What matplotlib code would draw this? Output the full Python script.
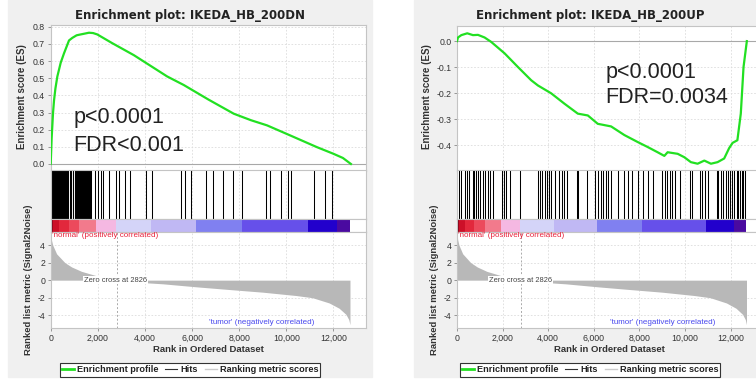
#!/usr/bin/env python3
"""
Two GSEA enrichment plots side by side (IKEDA_HB_200DN / IKEDA_HB_200UP).
Writes out.png (756x379).
"""

import matplotlib as mpl
import matplotlib.pyplot as plt
from matplotlib.lines import Line2D
from matplotlib.patches import Rectangle

W, H = 756, 379
DPI = 100

N_GENES = 12700
ZERO_CROSS = 2826
X_TICKS = [0, 2000, 4000, 6000, 8000, 10000, 12000]

# running enrichment score, gene set DN
ES_DN_RANK = [0, 40, 100, 141, 200, 282, 424, 565, 777, 918, 1100, 1271, 1450,
              1624, 1800, 1977, 2600, 3531, 4944, 5650, 6700, 7768, 8500, 9181,
              10170, 11300, 12006, 12400, 12740]
ES_DN = [0.0, 0.15, 0.30, 0.37, 0.44, 0.51, 0.59, 0.645, 0.72, 0.735, 0.75,
         0.755, 0.76, 0.765, 0.763, 0.755, 0.705, 0.634, 0.51, 0.46, 0.375,
         0.293, 0.255, 0.225, 0.166, 0.098, 0.059, 0.035, 0.0]

# running enrichment score, gene set UP
ES_UP_RANK = [0, 44, 190, 450, 700, 920, 1210, 1500, 2090, 2670, 3255, 3550,
              4130, 4715, 5300, 5740, 6175, 6760, 7340, 7930, 8365, 8800, 9095,
              9240, 9680, 9970, 10260, 10555, 10850, 11140, 11430, 11720, 11940,
              12090, 12300, 12450, 12570, 12715]
ES_UP = [0.0, 0.014, 0.023, 0.03, 0.023, 0.024, 0.014, -0.003, -0.047, -0.099,
         -0.15, -0.17, -0.20, -0.24, -0.278, -0.285, -0.317, -0.327, -0.36,
         -0.387, -0.406, -0.426, -0.44, -0.426, -0.432, -0.445, -0.464, -0.47,
         -0.458, -0.47, -0.464, -0.45, -0.41, -0.39, -0.38, -0.278, -0.099, 0.0]

# hit positions
HITS_DN = [0, 20, 45, 70, 95, 120, 150, 175, 205, 230, 260, 290, 315, 345, 370,
           400, 430, 455, 485, 510, 540, 570, 600, 630, 655, 690, 720, 750,
           800, 850, 880, 930, 960, 1010, 1050, 1080, 1130, 1170, 1200, 1250,
           1290, 1330, 1380, 1420, 1460, 1500, 1540, 1580, 1620, 1680, 1710,
           1890, 1990, 2130, 2200, 2490, 2760, 2880, 3150, 3380, 4040, 4290,
           5530, 5700, 5970, 6600, 6870, 7300, 7750, 8120, 9120, 9300, 9760,
           10060, 10200, 11170, 11660, 11940]
HITS_UP = [102, 190, 336, 423, 511, 686, 745, 832, 920, 1022, 1124, 1241, 1358,
           1460, 1562, 1971, 2044, 2161, 2336, 2774, 3547, 3650, 3723, 3869,
           3942, 4044, 4131, 4307, 4453, 4599, 4715, 4818, 5255, 5328, 5693,
           6058, 6204, 6321, 6423, 6526, 6642, 6759, 7080, 7343, 7518, 7664,
           7956, 8175, 8394, 8613, 8978, 9124, 9197, 9343, 9445, 9562, 9781,
           10219, 10292, 10657, 10759, 10876, 11022, 11387, 11460, 11577, 11679,
           11781, 11869, 11971, 12044, 12161, 12263, 12336, 12409, 12482, 12555,
           12628]

# ranked list metric (Signal2Noise)
METRIC_RANK = [0, 30, 85, 250, 600, 890, 1310, 1950, 2400, 2826, 3400, 4060,
               4770, 6180, 7590, 9000, 10410, 11110, 11820, 12240, 12530, 12650,
               12700]
METRIC_VAL = [5.4, 4.6, 4.0, 3.0, 2.0, 1.5, 1.0, 0.5, 0.25, 0.0, -0.18, -0.3,
              -0.42, -0.76, -1.07, -1.37, -1.75, -2.0, -2.6, -3.2, -3.9, -4.5,
              -5.07]

# heat-map bar under the hits
CBAR_EDGES = [0, 85, 370, 760, 1215, 1920, 2750, 4250, 6160, 8130, 10920,
              12130, 12700]
CBAR_COLORS = ["#8c0018", "#cc1028", "#e2283c", "#ec4a5c", "#f27a8c", "#f5b8e2",
               "#d4d4f8", "#c0b8f4", "#8080f0", "#6650ea", "#2200cc", "#4a0aa0"]

ES_COLOR = "#22e022"
METRIC_COLOR = "#b8b8b8"
SPINE_COLOR = "#c4c4c4"
GRID_COLOR = "#dcdcdc"
TEXT_COLOR = "#333333"
BG_COLOR = "#f0f0f0"


def box(x0, y0, x1, y1):
    """pixel box (top-left origin) -> figure fraction rect"""
    return [x0 / W, 1 - y1 / H, (x1 - x0) / W, (y1 - y0) / H]


def style_axes(ax, xmax):
    ax.set_xlim(0, xmax)
    for s in ax.spines.values():
        s.set_color(SPINE_COLOR)
        s.set_linewidth(0.8)
    ax.tick_params(length=2, width=0.6, color="#888888", labelsize=6.3,
                   labelcolor=TEXT_COLOR, pad=2)
    ax.set_xticks(X_TICKS)
    for x in X_TICKS[1:]:
        ax.axvline(x, color=GRID_COLOR, lw=0.6, ls=(0, (2, 2)), zorder=0)


def draw_panel(fig, geo, title, es_rank, es, hits, es_ylim, es_ticks, ptext):
    x0, x1 = geo["x0"], geo["x1"]
    xmax = geo["xmax"]

    fig.patches.append(Rectangle((geo["bg0"] / W, 1 - 377 / H),
                                 (geo["bg1"] - geo["bg0"]) / W, 377 / H,
                                 transform=fig.transFigure, color=BG_COLOR,
                                 zorder=-10))
    fig.text(geo["title_x"] / W, 1 - 15 / H, title, ha="center", va="center",
             fontsize=8.5, fontweight="bold", color="#222222",
             family="DejaVu Sans")

    # enrichment score
    ax = fig.add_axes(box(x0, geo["es_top"], x1, geo["es_bot"]))
    style_axes(ax, xmax)
    ax.set_ylim(*es_ylim)
    ax.set_yticks(es_ticks)
    ax.set_yticklabels([f"{t:.1f}" for t in es_ticks])
    for t in es_ticks:
        if t != 0:
            ax.axhline(t, color=GRID_COLOR, lw=0.6, ls=(0, (2, 2)), zorder=0)
    ax.axhline(0, color="#a8a8a8", lw=0.8, zorder=1)
    ax.plot(es_rank, es, color=ES_COLOR, lw=1.6, zorder=3)
    ax.tick_params(axis="x", labelbottom=False, length=0)
    ax.set_ylabel("Enrichment score (ES)", fontsize=7.0, fontweight="bold",
                  color=TEXT_COLOR)
    ax.yaxis.set_label_coords(geo["eslab_x"] / W, 1 - 97 / H,
                              transform=fig.transFigure)
    for i, line in enumerate(ptext["lines"]):
        ax.text(ptext["x"], ptext["y"][i], line, fontsize=15.5,
                color="#222222", ha="left", va="center")

    # hits
    axh = fig.add_axes(box(x0, geo["es_bot"], x1, 219.3))
    style_axes(axh, xmax)
    axh.set_ylim(0, 1)
    axh.set_yticks([])
    axh.tick_params(axis="x", labelbottom=False, length=0)
    axh.vlines(hits, 0, 1, color="black", lw=0.75, zorder=2)

    # heat bar
    axc = fig.add_axes(box(x0, 219.3, x1, 231.7))
    axc.set_xlim(0, xmax)
    axc.set_ylim(0, 1)
    axc.set_xticks([])
    axc.set_yticks([])
    for s in axc.spines.values():
        s.set_color(SPINE_COLOR)
        s.set_linewidth(0.8)
    for i, c in enumerate(CBAR_COLORS):
        axc.axvspan(CBAR_EDGES[i], CBAR_EDGES[i + 1], color=c, lw=0)

    # ranked list metric
    axm = fig.add_axes(box(x0, 231.7, x1, 328))
    style_axes(axm, xmax)
    axm.set_ylim(-5.45, 5.52)
    axm.set_yticks([4, 2, 0, -2, -4])
    for t in [4, 2, -2, -4]:
        axm.axhline(t, color=GRID_COLOR, lw=0.6, ls=(0, (2, 2)), zorder=0)
    axm.fill_between(METRIC_RANK, METRIC_VAL, 0, color=METRIC_COLOR, lw=0,
                     zorder=2)
    axm.axvline(ZERO_CROSS, color="#aaaaaa", lw=0.7, ls=(0, (2, 2)), zorder=3)
    axm.set_xticklabels([f"{t:,}" for t in X_TICKS])
    axm.text(1410, 0, f"Zero cross at {ZERO_CROSS}", fontsize=5.4,
             color="#444444", ha="left", va="center", zorder=4,
             bbox=dict(facecolor="white", edgecolor="none", pad=0.6))
    axm.text(60, 5.05, "'normal' (positively correlated)", fontsize=5.8,
             color="#e8203a", ha="left", va="center", zorder=4)
    axm.text(6700, -4.77, "'tumor' (negatively correlated)", fontsize=5.8,
             color="#4848ee", ha="left", va="center", zorder=4)
    axm.set_xlabel("Rank in Ordered Dataset", fontsize=6.8, fontweight="bold",
                   color=TEXT_COLOR, labelpad=1.5)
    axm.set_ylabel("Ranked list metric (Signal2Noise)", fontsize=6.8,
                   fontweight="bold", color=TEXT_COLOR)
    axm.yaxis.set_label_coords(geo["ylab_x"] / W, 1 - 280 / H,
                               transform=fig.transFigure)

    handles = [Line2D([], [], color=ES_COLOR, lw=2.0),
               Line2D([], [], color="#333333", lw=0.8),
               Line2D([], [], color="#cccccc", lw=1.0)]
    leg = fig.legend(handles, ["Enrichment profile", "Hits",
                               "Ranking metric scores"],
                     loc="center", bbox_to_anchor=(geo["title_x"] / W,
                                                   1 - 370 / H),
                     ncol=3, frameon=True, fancybox=False, framealpha=1,
                     edgecolor="#333333", facecolor="white",
                     prop={"size": 6.6, "weight": "bold"},
                     handlelength=1.3, handletextpad=0.3, columnspacing=0.8,
                     borderpad=0.25, borderaxespad=0)
    leg.get_frame().set_linewidth(0.8)
    for t in leg.get_texts():
        t.set_color("#222222")


def main():
    mpl.rcParams.update({
        "font.family": ["Liberation Sans", "DejaVu Sans"],
        "axes.unicode_minus": False,
    })
    fig = plt.figure(figsize=(W / DPI, H / DPI), dpi=DPI)
    fig.patch.set_facecolor("white")

    left = dict(x0=50.7, x1=366, xmax=13380, bg0=8, bg1=372, title_x=190,
                es_top=25, es_bot=170.5, eslab_x=27, ylab_x=33)
    draw_panel(fig, left, "Enrichment plot: IKEDA_HB_200DN", ES_DN_RANK, ES_DN,
               HITS_DN, (-0.038, 0.81), [0.0, 0.1, 0.2, 0.3, 0.4, 0.5, 0.6,
                                          0.7, 0.8],
               dict(lines=["p<0.0001", "FDR<0.001"], x=950,
                    y=[0.27, 0.11]))

    right = dict(x0=457, x1=762, xmax=13380, bg0=414, bg1=790, title_x=590,
                 es_top=26, es_bot=170.5, eslab_x=432, ylab_x=439)
    draw_panel(fig, right, "Enrichment plot: IKEDA_HB_200UP", ES_UP_RANK, ES_UP,
               HITS_UP, (-0.496, 0.058), [0.0, -0.1, -0.2, -0.3, -0.4],
               dict(lines=["p<0.0001", "FDR=0.0034"], x=6500,
                    y=[-0.12, -0.215]))

    fig.savefig("out.png", dpi=DPI)
    plt.close(fig)


if __name__ == "__main__":
    main()
